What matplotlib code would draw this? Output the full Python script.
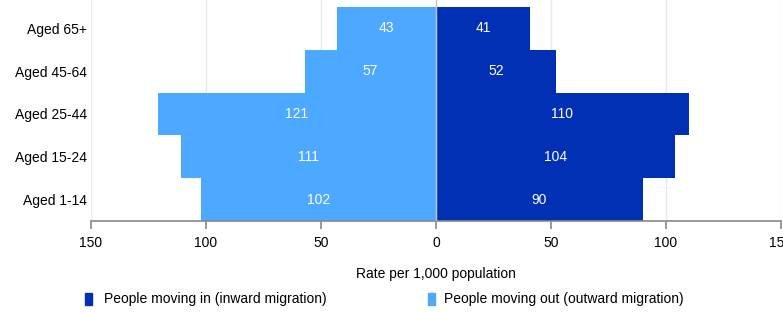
import matplotlib.pyplot as plt
from matplotlib.patches import Rectangle

plt.rcParams['font.family'] = ['Liberation Sans', 'DejaVu Sans']

# Data
ages = ['Aged 1-14', 'Aged 15-24', 'Aged 25-44', 'Aged 45-64', 'Aged 65+']
moving_in = [90, 104, 110, 52, 41]
moving_out = [102, 111, 121, 57, 43]
xticks = [-150, -100, -50, 0, 50, 100, 150]

dark = '#0230b4'
light = '#4da8ff'

fig = plt.figure(figsize=(7.83, 3.13), dpi=100)
ax = fig.add_axes([91 / 783, 1 - 221 / 313, 690 / 783, 221 / 313])

y = range(len(ages))
ax.barh(y, [-v for v in moving_out], height=1.0, color=light, zorder=2)
ax.barh(y, moving_in, height=1.0, color=dark, zorder=2)

for i in y:
    ax.text(-moving_out[i] / 2, i, str(moving_out[i]), color='white',
            ha='center', va='center', fontsize=10, zorder=3)
    ax.text(moving_in[i] / 2, i, str(moving_in[i]), color='white',
            ha='center', va='center', fontsize=10, zorder=3)

ax.axvline(0, color='#c0c8d0', linewidth=1, zorder=4)

ax.set_xlim(-150, 150)
ax.set_ylim(-0.5, 4.66)
ax.set_xticks(xticks)
ax.set_xticklabels([str(abs(t)) for t in xticks], fontsize=10)
ax.set_yticks(list(y))
ax.set_yticklabels(ages, fontsize=10)
ax.tick_params(axis='y', length=0, pad=3)
ax.tick_params(axis='x', length=6, width=1.2, color='#888888', pad=5)
ax.grid(axis='x', color='#e8e8e8', linewidth=1, zorder=0)

for side in ['top', 'right', 'left']:
    ax.spines[side].set_visible(False)
ax.spines['bottom'].set_color('#888888')
ax.spines['bottom'].set_linewidth(1.2)

ax.set_xlabel('Rate per 1,000 population', fontsize=10, labelpad=12)

# Legend drawn by hand
fig.patches.append(Rectangle((85 / 783, 1 - 305 / 313), 7 / 783, 12 / 313,
                             transform=fig.transFigure, color=dark))
fig.text(104 / 783, 1 - 299 / 313, 'People moving in (inward migration)',
         fontsize=10, va='center')
fig.patches.append(Rectangle((428 / 783, 1 - 305 / 313), 7 / 783, 12 / 313,
                             transform=fig.transFigure, color=light))
fig.text(444 / 783, 1 - 299 / 313, 'People moving out (outward migration)',
         fontsize=10, va='center')

fig.savefig('out.png', dpi=100)
